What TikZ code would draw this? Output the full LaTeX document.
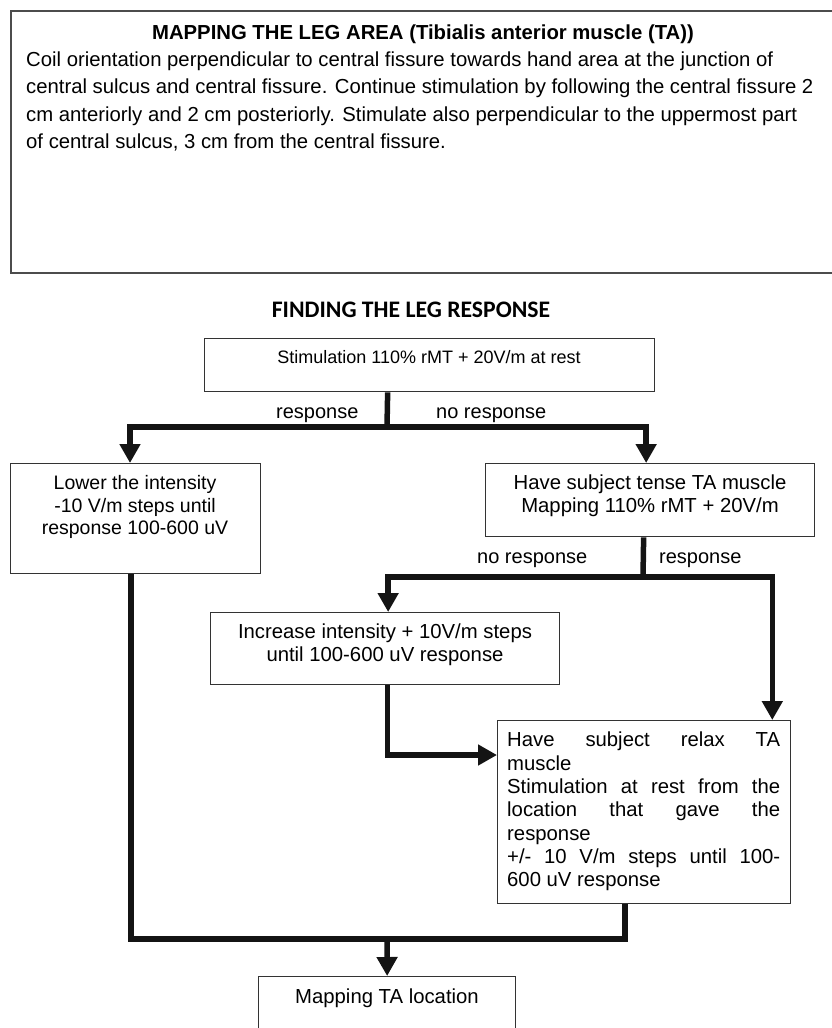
\documentclass[tikz,border=0pt]{standalone}
\usepackage{fontspec}
\setmainfont{Liberation Sans}
\newfontfamily\calb{Carlito}
\usetikzlibrary{arrows.meta}
\begin{document}
\begin{tikzpicture}[x=1pt,y=-1pt,
  box/.style={draw=black!80, line width=1.3pt, inner sep=0pt, anchor=north west, fill=none},
  flow/.style={line width=5.5pt, draw=black!92, line join=miter},
  arr/.style={flow, -{Triangle[width=20pt,length=19pt]}},
  txt/.style={font=\fontsize{20.3}{23.3}\selectfont, inner sep=0pt, align=center, anchor=base},
  lab/.style={font=\fontsize{20}{22}\selectfont, inner sep=0pt, anchor=base west}]
\useasboundingbox (0,0) rectangle (832,1028);
% top description box
\node[box, draw=black!70, line width=1.8pt, minimum width=840pt, minimum height=262pt] (top) at (10,10) {};
\node[font=\bfseries\fontsize{20.3}{24}\selectfont, inner sep=0pt, anchor=base] (title) at (423,39) {MAPPING THE LEG AREA (Tibialis anterior muscle (TA))};
\node[font=\fontsize{20.3}{27.5}\selectfont, inner sep=0pt, anchor=base west, align=left] (body) at (26,148.5) {Coil orientation perpendicular to central fissure towards hand area at the junction of\\central sulcus and central fissure. Continue stimulation by following the central fissure 2\\cm anteriorly and 2 cm posteriorly. Stimulate also perpendicular to the uppermost part\\of central sulcus, 3 cm from the central fissure.};
% heading
\node[font=\calb\bfseries\fontsize{23.7}{28}\selectfont, inner sep=0pt] (find) at (411,310) {FINDING THE LEG RESPONSE};
% boxes
\node[box, minimum width=450pt, minimum height=53pt] (b1) at (204,338) {};
\node[txt, font=\fontsize{18}{22}\selectfont] (b1t) at (429,363) {Stimulation 110\% rMT + 20V/m at rest};
\node[box, minimum width=250pt, minimum height=110pt] (lb) at (10,463) {};
\node[txt, font=\fontsize{19.5}{22.5}\selectfont] (lbt) at (135,534.5) {Lower the intensity\\-10 V/m steps until\\response 100-600 uV};
\node[box, minimum width=329pt, minimum height=73pt] (rb) at (485,463) {};
\node[txt] (rbt) at (650,512.5) {Have subject tense TA muscle\\Mapping 110\% rMT + 20V/m};
\node[box, minimum width=349pt, minimum height=72pt] (mb) at (210,612) {};
\node[txt] (mbt) at (385,661.5) {Increase intensity + 10V/m steps\\until 100-600 uV response};
\node[box, minimum width=293pt, minimum height=183pt] (xb) at (497,720) {};
\node[font=\fontsize{20.3}{23.3}\selectfont, inner sep=0pt, anchor=north west] (xbt) at (507,732) {\parbox[t]{273pt}{\parindent=0pt\parfillskip=0pt plus 1fil\hyphenpenalty=10000
Have subject relax TA\linebreak muscle\par
Stimulation at rest from the\linebreak location that gave the\linebreak response\par
+/- 10 V/m steps until 100-\linebreak 600 uV response}};
\node[box, minimum width=257pt, minimum height=80pt] (fb) at (258,976) {};
\node[txt] (fbt) at (387,1003) {Mapping TA location};
% labels
\node[lab] (l1) at (276,418) {response};
\node[lab] (l2) at (436,418) {no response};
\node[lab] (l3) at (477,563) {no response};
\node[lab] (l4) at (659,563) {response};
% connectors
\coordinate (j1) at (387,427);
\draw[flow] ([xshift=-42pt]b1.south) -- (j1);
\draw[arr] (j1) -| ([xshift=120pt]lb.north west);
\draw[arr] (j1) -| ([xshift=-4pt]rb.north);
\coordinate (j2) at (643,577);
\draw[flow] ([xshift=-6.5pt]rb.south) -- (j2);
\draw[arr] (j2) -| ([xshift=3pt]mb.north);
\draw[arr] (j2) -| ([xshift=-19pt]xb.north east);
\draw[arr] ([xshift=2.5pt]mb.south) |- ([yshift=-35pt]xb.north west);
\coordinate (j3) at (387,939);
\draw[flow] ([xshift=121pt]lb.south west) |- (j3);
\draw[flow] ([xshift=128pt]xb.south west) |- (j3);
\draw[arr] (j3) -- (fb.north);
\end{tikzpicture}
\end{document}
